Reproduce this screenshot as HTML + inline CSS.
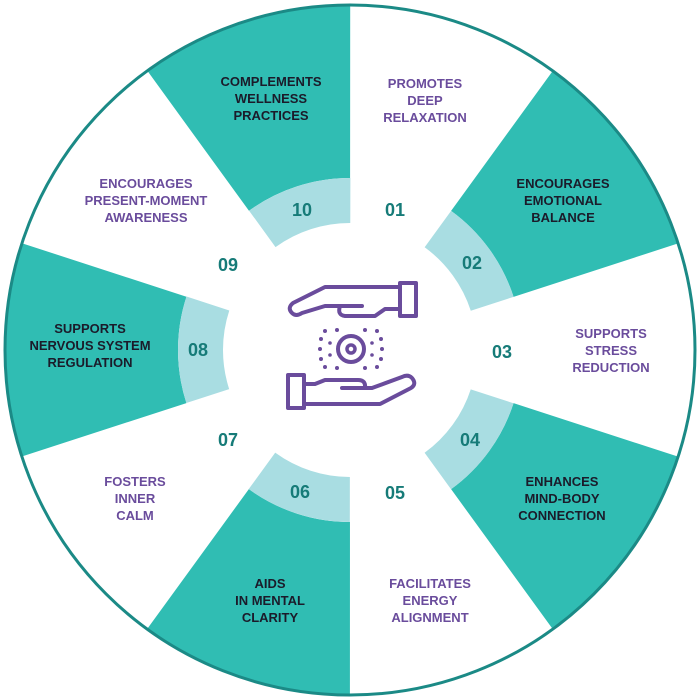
<!DOCTYPE html>
<html><head><meta charset="utf-8"><style>
html,body{margin:0;padding:0;background:#fff;}
svg{display:block}
.l{font-family:"Liberation Sans",sans-serif;font-weight:bold;font-size:13px;text-anchor:middle}
.p{fill:#6a4c9c}.d{fill:#1b1b2a}
.n{font-family:"Liberation Sans",sans-serif;font-weight:bold;font-size:18px;fill:#167b78;text-anchor:middle}
</style></head><body>
<svg width="700" height="700" viewBox="0 0 700 700">
<rect width="700" height="700" fill="#fff"/>
<circle cx="350" cy="350" r="258.5" fill="none" stroke="#30bdb3" stroke-width="173" stroke-dasharray="162.42 162.42" transform="rotate(-54 350 350)"/>
<circle cx="350" cy="350" r="149.5" fill="none" stroke="#a9dde2" stroke-width="45" stroke-dasharray="93.93 93.93" transform="rotate(-54 350 350)"/>
<circle cx="350" cy="350" r="345" fill="none" stroke="#1b8a86" stroke-width="3"/>

<g class="l d">
<text x="271" y="86">COMPLEMENTS</text><text x="271" y="103">WELLNESS</text><text x="271" y="120">PRACTICES</text>
<text x="563" y="188">ENCOURAGES</text><text x="563" y="205">EMOTIONAL</text><text x="563" y="222">BALANCE</text>
<text x="562" y="486">ENHANCES</text><text x="562" y="503">MIND-BODY</text><text x="562" y="520">CONNECTION</text>
<text x="270" y="588">AIDS</text><text x="270" y="605">IN MENTAL</text><text x="270" y="622">CLARITY</text>
<text x="90" y="333">SUPPORTS</text><text x="90" y="350">NERVOUS SYSTEM</text><text x="90" y="367">REGULATION</text>
</g>
<g class="l p">
<text x="425" y="88">PROMOTES</text><text x="425" y="105">DEEP</text><text x="425" y="122">RELAXATION</text>
<text x="611" y="338">SUPPORTS</text><text x="611" y="355">STRESS</text><text x="611" y="372">REDUCTION</text>
<text x="430" y="588">FACILITATES</text><text x="430" y="605">ENERGY</text><text x="430" y="622">ALIGNMENT</text>
<text x="135" y="486">FOSTERS</text><text x="135" y="503">INNER</text><text x="135" y="520">CALM</text>
<text x="146" y="188">ENCOURAGES</text><text x="146" y="205">PRESENT-MOMENT</text><text x="146" y="222">AWARENESS</text>
</g>
<g class="n">
<text x="302" y="216">10</text><text x="395" y="216">01</text><text x="472" y="269">02</text>
<text x="502" y="358">03</text><text x="470" y="446">04</text><text x="395" y="499">05</text>
<text x="300" y="498">06</text><text x="228" y="446">07</text><text x="198" y="356">08</text>
<text x="228" y="271">09</text>
</g>

<g fill="none" stroke="#6a4c9c" stroke-width="4" stroke-linejoin="round" stroke-linecap="round">
<rect x="400" y="283" width="16" height="33"/>
<path d="M400 287 H325 L293 303 Q287 308 292 313 Q296 317 302 313 L325 306 H362"/>
<path d="M340 306 Q337 315 345 316 H375 L385 309 H400"/>
<rect x="288" y="375" width="16" height="33"/>
<path d="M304 404 H380 L411 388 Q417 384 412 378 Q408 374 402 377 L372 388 H342"/>
<path d="M365 388 Q366 380 358 380 H325 L315 384 H304"/>
<circle cx="351" cy="349" r="13"/>
<circle cx="351" cy="349" r="4" stroke-width="3.5"/>
</g>
<g fill="#6a4c9c">
<circle cx="321" cy="339" r="2"/><circle cx="320" cy="349" r="2"/><circle cx="321" cy="359" r="2"/>
<circle cx="325" cy="331" r="2"/><circle cx="325" cy="367" r="2"/>
<circle cx="381" cy="339" r="2"/><circle cx="382" cy="349" r="2"/><circle cx="381" cy="359" r="2"/>
<circle cx="377" cy="331" r="2"/><circle cx="377" cy="367" r="2"/>
<circle cx="337" cy="330" r="2"/><circle cx="365" cy="330" r="2"/>
<circle cx="337" cy="368" r="2"/><circle cx="365" cy="368" r="2"/>
<circle cx="330" cy="343" r="1.8"/><circle cx="330" cy="355" r="1.8"/>
<circle cx="372" cy="343" r="1.8"/><circle cx="372" cy="355" r="1.8"/>
</g>
</svg>
</body></html>
